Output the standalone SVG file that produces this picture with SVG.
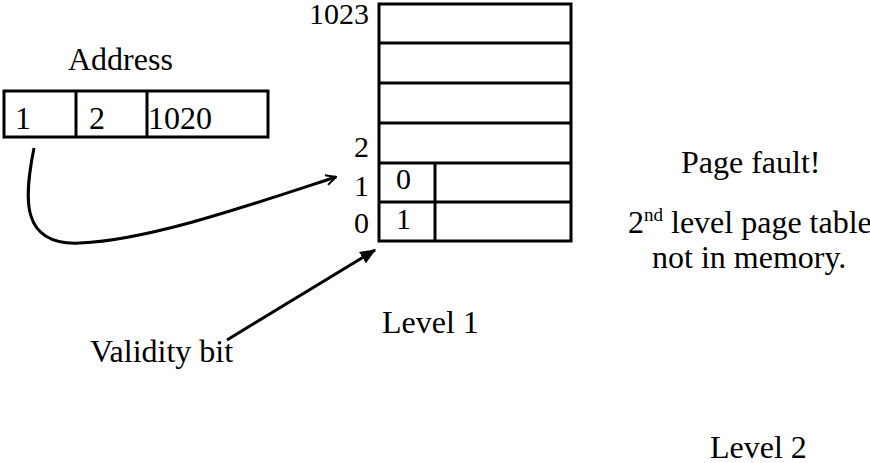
<svg xmlns="http://www.w3.org/2000/svg" width="870" height="463" viewBox="0 0 870 463">
<defs>
<style>
text{font-family:"Liberation Serif","Times New Roman",serif;font-size:32px;fill:#000}
.num{font-size:30px}
.box{fill:#fff;stroke:#000;stroke-width:3}
.ln{stroke:#000;stroke-width:3;fill:none}
.end{text-anchor:end}
</style>
<marker id="open" viewBox="0 0 12 12" refX="11" refY="6" markerWidth="12" markerHeight="12" markerUnits="userSpaceOnUse" orient="auto">
<path d="M1,1 L11,6 L1,11" fill="none" stroke="#000" stroke-width="2"/>
</marker>
<marker id="fill" viewBox="0 0 12 12" refX="11" refY="6" markerWidth="16" markerHeight="16" markerUnits="userSpaceOnUse" orient="auto">
<path d="M0,1 L12,6 L0,11 Z" fill="#000"/>
</marker>
</defs>
<rect width="870" height="463" fill="#fff"/>
<g id="address">
<text x="68" y="70" font-size="31">Address</text>
<rect class="box" x="4" y="91" width="264" height="46"/>
<line class="ln" x1="76" y1="91" x2="76" y2="137"/>
<line class="ln" x1="147" y1="91" x2="147" y2="137"/>
<text x="15" y="129" font-size="31">1</text>
<text x="89" y="129" font-size="31">2</text>
<text x="148" y="129" font-size="31">1020</text>
</g>
<g id="level1">
<rect class="box" x="379" y="4" width="192" height="237"/>
<line class="ln" x1="379" y1="43" x2="571" y2="43"/>
<line class="ln" x1="379" y1="83" x2="571" y2="83"/>
<line class="ln" x1="379" y1="123" x2="571" y2="123"/>
<line class="ln" x1="379" y1="163" x2="571" y2="163"/>
<line class="ln" x1="379" y1="202" x2="571" y2="202"/>
<line class="ln" x1="435" y1="163" x2="435" y2="241"/>
<text class="end num" x="369" y="24">1023</text>
<text class="end num" x="369" y="157">2</text>
<text class="end num" x="369" y="196">1</text>
<text class="end num" x="369" y="233">0</text>
<text class="num" x="396" y="189">0</text>
<text class="num" x="396" y="229">1</text>
<text x="382" y="333">Level 1</text>
</g>
<g id="validity">
<text x="90" y="362">Validity bit</text>
</g>
<g id="fault">
<text x="681" y="173">Page fault!</text>
<text x="628" y="233" font-size="31">2<tspan font-size="19" dy="-12">nd</tspan><tspan dy="12"> level page table</tspan></text>
<text x="652" y="268">not in memory.</text>
</g>
<g id="level2">
<text x="710" y="458">Level 2</text>
</g>
<g id="connectors">
<path class="ln" d="M34,148 C24,198 20,246 80,243 C150,240 250,205 336,177" marker-end="url(#open)"/>
<line class="ln" x1="227" y1="340" x2="375" y2="250" marker-end="url(#fill)"/>
</g>
</svg>
